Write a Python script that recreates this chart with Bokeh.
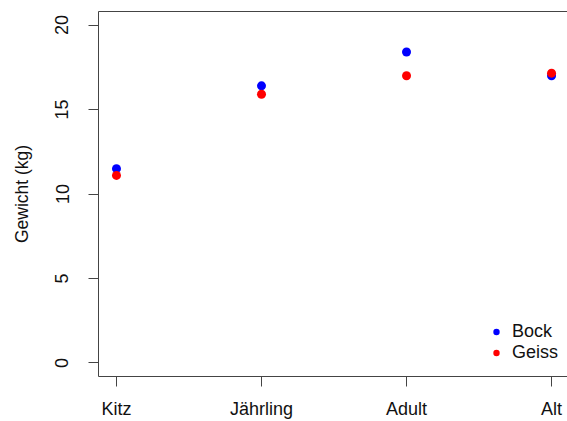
from bokeh.plotting import figure
from bokeh.models import (Range1d, FixedTicker, LinearAxis, Legend, LegendItem,
                          ColumnDataSource)
from bokeh.embed import file_html
from bokeh.resources import INLINE

categories = ["Kitz", "Jährling", "Adult", "Alt"]
bock = [11.5, 16.4, 18.4, 17.0]
geiss = [11.1, 15.9, 17.0, 17.15]
y_ticks = [0, 5, 10, 15, 20]

x_pos = list(range(1, len(categories) + 1))
src = ColumnDataSource(dict(x=x_pos, bock=bock, geiss=geiss))

FONT = "Liberation Sans"
LINE = "#444444"

p = figure(width=567, height=421, output_backend="svg", toolbar_location=None,
           x_range=Range1d(0.876, 4.11), y_range=Range1d(-0.8, 20.8),
           min_border_left=98, min_border_right=0, min_border_top=11,
           min_border_bottom=45, x_axis_location="below")
p.outline_line_color = None
p.grid.visible = False
p.background_fill_color = "white"
p.border_fill_color = "white"

r1 = p.scatter("x", "bock", source=src, size=9, color="#0000FF", line_color=None)
r2 = p.scatter("x", "geiss", source=src, size=9, color="#FF0000", line_color=None)

xa = p.xaxis[0]
xa.ticker = FixedTicker(ticks=x_pos)
xa.major_label_overrides = {i: c for i, c in zip(x_pos, categories)}
ya = p.yaxis[0]
ya.ticker = FixedTicker(ticks=y_ticks)
ya.major_label_orientation = "vertical"
ya.axis_label = "Gewicht (kg)"

for ax in (xa, ya):
    ax.axis_line_color = LINE
    ax.major_tick_line_color = LINE
    ax.major_tick_out = 10
    ax.major_tick_in = 0
    ax.minor_tick_line_color = None
    ax.major_label_text_font = FONT
    ax.major_label_text_font_size = "18px"
    ax.major_label_text_color = "#111111"
    ax.major_label_standoff = 12
    ax.axis_label_text_font = FONT
    ax.axis_label_text_font_size = "17.5px"
    ax.axis_label_text_font_style = "normal"
    ax.axis_label_text_color = "#111111"
ya.major_label_standoff = 20
ya.axis_label_standoff = 21

top = LinearAxis(ticker=FixedTicker(ticks=[]), major_label_text_font_size="0px",
                 major_tick_out=0, major_tick_in=0, minor_tick_line_color=None,
                 axis_line_color=LINE)
p.add_layout(top, "above")

legend = Legend(items=[LegendItem(label="Bock", renderers=[r1]),
                       LegendItem(label="Geiss", renderers=[r2])],
                location=(390, 13), border_line_color=None,
                background_fill_alpha=0, padding=0, margin=0, spacing=0,
                glyph_width=16, glyph_height=21, label_height=21,
                label_standoff=8, label_text_font=FONT,
                label_text_font_size="18px", label_text_color="#111111")
p.add_layout(legend, "center")

open("out.html", "w").write(file_html(p, INLINE))
